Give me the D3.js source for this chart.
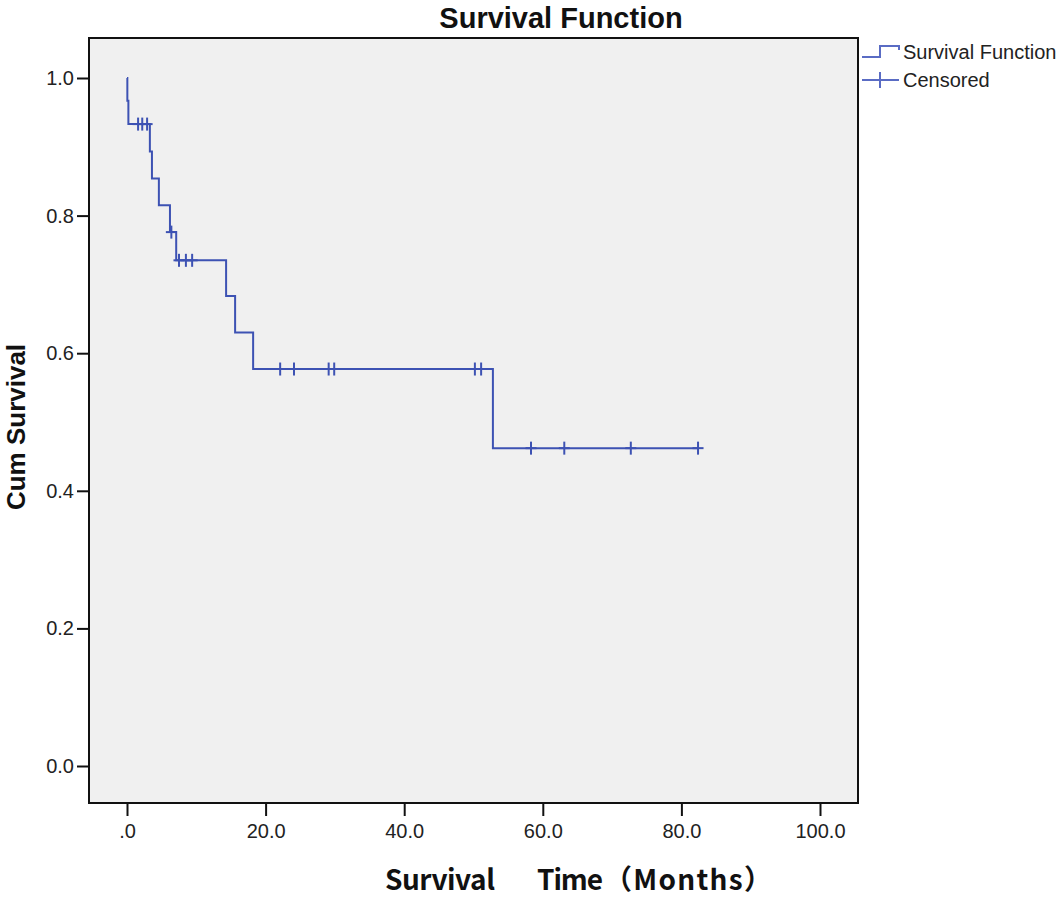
<!DOCTYPE html>
<html><head><meta charset="utf-8">
<script src="https://cdn.jsdelivr.net/npm/d3@7"></script>
<style>body{margin:0;background:#fff}svg{display:block}</style>
</head><body><svg id="c" width="1063" height="900"></svg>
<script>
// Step points: [time, survival after event]
const eventTimes = [0, 0.05, 0.2, 3.3, 3.6, 4.6, 6.2, 7.1, 14.3, 15.6, 18.2, 52.8];
const survival   = [1.0, 0.967, 0.933, 0.893, 0.854, 0.815, 0.776, 0.735, 0.683, 0.630, 0.577, 0.462];
const endTime = 82.4;
const censorTimes = [1.6, 2.2, 2.9, 6.4, 7.5, 8.5, 9.4, 22.1, 24.1, 29.1, 29.9, 50.2, 51.1, 58.3, 63.1, 72.7, 82.4];
const xTicks = [0, 20, 40, 60, 80, 100];
const xTickLabels = [".0", "20.0", "40.0", "60.0", "80.0", "100.0"];
const yTicks = [0, 0.2, 0.4, 0.6, 0.8, 1.0];
const yTickLabels = ["0.0", "0.2", "0.4", "0.6", "0.8", "1.0"];
const xLabelParts = ["Survival", "Time", "（Months）"];

const svg = d3.select("#c");
const L = 89, R = 858, T = 38, B = 803;
const x = d3.scaleLinear().domain([0, 100]).range([127, 820]);
const y = d3.scaleLinear().domain([0, 1]).range([766, 78]);
const col = "#3d52b3";
const font = "'Liberation Sans', Arial, sans-serif";

svg.append("rect").attr("x", L).attr("y", T).attr("width", R - L).attr("height", B - T)
  .attr("fill", "#f0f0f0").attr("stroke", "#111").attr("stroke-width", 2);

const xAxis = svg.append("g").attr("transform", `translate(0,${B})`)
  .call(d3.axisBottom(x).tickValues(xTicks).tickFormat((d, i) => xTickLabels[i]).tickSize(13).tickPadding(8));
const yAxis = svg.append("g").attr("transform", `translate(${L},0)`)
  .call(d3.axisLeft(y).tickValues(yTicks).tickFormat((d, i) => yTickLabels[i]).tickSize(12).tickPadding(3));
[xAxis, yAxis].forEach(a => {
  a.select(".domain").remove();
  a.selectAll(".tick line").attr("stroke", "#111").attr("stroke-width", 2);
  a.selectAll(".tick text").attr("font-family", font).attr("font-size", 20).attr("fill", "#222");
});

// survival step line
const pts = eventTimes.map((t, i) => [t, survival[i]]);
pts.push([endTime, survival[survival.length - 1]]);
const line = d3.line().x(d => x(d[0])).y(d => y(d[1])).curve(d3.curveStepAfter);
svg.append("path").attr("d", line(pts)).attr("fill", "none").attr("stroke", col).attr("stroke-width", 2);

// censor marks
function survAt(t) {
  let s = 1;
  for (let i = 0; i < eventTimes.length; i++) if (eventTimes[i] <= t) s = survival[i];
  return s;
}
const cg = svg.append("g").attr("stroke", col).attr("stroke-width", 2);
censorTimes.forEach(t => {
  const cx = x(t), cy = y(survAt(t));
  cg.append("line").attr("x1", cx).attr("x2", cx).attr("y1", cy - 6.5).attr("y2", cy + 6.5);
  cg.append("line").attr("x1", cx - 5.5).attr("x2", cx + 5.5).attr("y1", cy).attr("y2", cy);
});

// titles
svg.append("text").attr("x", 561).attr("y", 28).attr("text-anchor", "middle")
  .attr("font-family", font).attr("font-weight", "bold").attr("font-size", 29).attr("fill", "#111")
  .text("Survival Function");
svg.append("text").attr("transform", "translate(25,427) rotate(-90)").attr("text-anchor", "middle")
  .attr("font-family", font).attr("font-weight", "bold").attr("font-size", 26).attr("fill", "#111")
  .text("Cum Survival");
const xl = svg.append("text").attr("y", 890)
  .attr("font-family", "'Noto Sans CJK SC', 'Liberation Sans', sans-serif").attr("font-weight", "bold").attr("font-size", 28).attr("fill", "#111");
const partX = [385, 537, 604];
const partW = [110, 66, 168];
xLabelParts.forEach((p, i) => {
  const t = svg.append("text").attr("x", partX[i]).attr("y", 890)
    .attr("font-family", "'Noto Sans CJK SC', 'Liberation Sans', sans-serif").attr("font-weight", "bold")
    .attr("font-size", 28).attr("fill", "#111").attr("textLength", partW[i]).attr("lengthAdjust", "spacing").text(p);
});
xl.remove();

// legend
const lc = "#5a6cc4";
const lg = svg.append("g");
lg.append("path").attr("d", "M862,57 H880 V46 H899 V50").attr("fill", "none").attr("stroke", lc).attr("stroke-width", 2);
lg.append("line").attr("x1", 862).attr("x2", 899).attr("y1", 80).attr("y2", 80).attr("stroke", lc).attr("stroke-width", 2);
lg.append("line").attr("x1", 880).attr("x2", 880).attr("y1", 72).attr("y2", 88).attr("stroke", lc).attr("stroke-width", 2);
lg.append("text").attr("x", 903).attr("y", 59).attr("font-family", font).attr("font-size", 20).attr("fill", "#222").text("Survival Function");
lg.append("text").attr("x", 903).attr("y", 87).attr("font-family", font).attr("font-size", 20).attr("fill", "#222").text("Censored");
</script></body></html>
